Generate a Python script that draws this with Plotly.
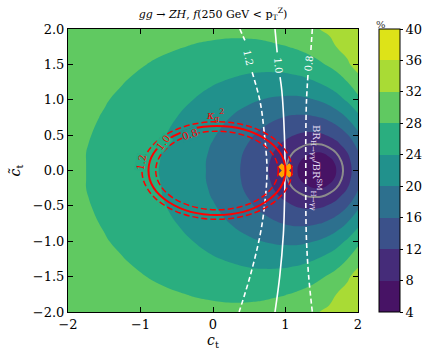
import plotly.graph_objects as go

# grid of f(250 GeV < pT^Z) in %
ct = [-2, -1.75, -1.5, -1.25, -1, -0.75, -0.5, -0.25, 0, 0.25, 0.5, 0.7, 0.85,
      1.0, 1.1, 1.2, 1.3, 1.4, 1.5, 1.6, 1.7, 1.85, 2.0]
ctt = [-2, -1.75, -1.5, -1.25, -1, -0.75, -0.5, -0.375, -0.25, -0.125, 0,
       0.125, 0.25, 0.375, 0.5, 0.75, 1, 1.25, 1.5, 1.75, 2]
frac = [
    [31.2, 30.9, 30.5, 30.2, 29.9, 29.5, 29.3, 29.0, 28.9, 28.9, 29.0, 29.3, 29.6, 30.0, 30.3, 30.7, 31.1, 31.6, 32.2, 32.7, 33.4, 34.4, 35.5],
    [30.7, 30.3, 29.9, 29.5, 29.0, 28.6, 28.2, 27.8, 27.5, 27.2, 27.2, 27.3, 27.6, 27.9, 28.2, 28.6, 29.0, 29.6, 30.2, 30.8, 32.0, 32.8, 34.1],
    [30.2, 29.8, 29.3, 28.7, 28.2, 27.6, 27.0, 26.5, 25.9, 25.5, 25.2, 25.1, 25.2, 25.4, 25.7, 26.0, 26.5, 27.0, 27.7, 28.4, 29.2, 31.6, 33.0],
    [29.8, 29.3, 28.7, 28.1, 27.4, 26.7, 25.9, 25.1, 24.3, 23.6, 22.9, 22.6, 22.5, 22.5, 22.7, 22.9, 23.3, 23.8, 24.5, 25.3, 26.2, 27.9, 31.0],
    [29.4, 28.8, 28.2, 27.5, 26.7, 25.8, 24.9, 23.9, 22.8, 21.7, 20.6, 19.9, 19.5, 19.3, 19.2, 19.3, 19.6, 20.0, 20.6, 21.4, 22.5, 24.5, 26.8],
    [29.1, 28.5, 27.8, 27.0, 26.1, 25.1, 24.0, 22.8, 21.4, 19.9, 18.4, 17.3, 16.5, 15.8, 15.5, 15.4, 15.4, 15.7, 16.1, 16.9, 18.0, 20.2, 23.1],
    [28.9, 28.2, 27.5, 26.6, 25.6, 24.5, 23.3, 21.9, 20.3, 18.5, 16.5, 14.9, 13.7, 12.7, 12.1, 11.6, 11.3, 11.3, 11.6, 12.3, 13.3, 15.7, 19.1],
    [28.8, 28.1, 27.3, 26.5, 25.5, 24.3, 23.0, 21.5, 19.8, 17.9, 15.8, 14.0, 12.6, 11.4, 10.6, 10.0, 9.6, 9.5, 9.6, 10.2, 11.2, 13.6, 17.2],
    [28.8, 28.0, 27.3, 26.4, 25.3, 24.2, 22.8, 21.3, 19.5, 17.5, 15.2, 13.3, 11.8, 10.4, 9.5, 8.8, 8.3, 8.0, 8.0, 8.5, 9.5, 11.9, 15.7],
    [28.7, 28.0, 27.2, 26.3, 25.3, 24.1, 22.7, 21.1, 19.3, 17.3, 14.9, 12.9, 11.3, 9.8, 8.8, 8.0, 7.4, 7.0, 7.0, 7.4, 8.3, 10.8, 14.6],
    [28.7, 28.0, 27.2, 26.3, 25.2, 24.0, 22.7, 21.1, 19.3, 17.2, 14.8, 12.7, 11.1, 9.5, 8.6, 7.7, 7.1, 6.7, 6.6, 7.0, 8.0, 10.4, 14.3],
    [28.7, 28.0, 27.2, 26.3, 25.3, 24.1, 22.7, 21.1, 19.3, 17.3, 14.9, 12.9, 11.3, 9.8, 8.8, 8.0, 7.4, 7.0, 7.0, 7.4, 8.3, 10.8, 14.6],
    [28.8, 28.0, 27.3, 26.4, 25.3, 24.2, 22.8, 21.3, 19.5, 17.5, 15.2, 13.3, 11.8, 10.4, 9.5, 8.8, 8.3, 8.0, 8.0, 8.5, 9.5, 11.9, 15.7],
    [28.8, 28.1, 27.3, 26.5, 25.5, 24.3, 23.0, 21.5, 19.8, 17.9, 15.8, 14.0, 12.6, 11.4, 10.6, 10.0, 9.6, 9.5, 9.6, 10.2, 11.2, 13.6, 17.2],
    [28.9, 28.2, 27.5, 26.6, 25.6, 24.5, 23.3, 21.9, 20.3, 18.5, 16.5, 14.9, 13.7, 12.7, 12.1, 11.6, 11.3, 11.3, 11.6, 12.3, 13.3, 15.7, 19.1],
    [29.1, 28.5, 27.8, 27.0, 26.1, 25.1, 24.0, 22.8, 21.4, 19.9, 18.4, 17.3, 16.5, 15.8, 15.5, 15.4, 15.4, 15.7, 16.1, 16.9, 18.0, 20.2, 23.1],
    [29.4, 28.8, 28.2, 27.5, 26.7, 25.8, 24.9, 23.9, 22.8, 21.7, 20.6, 19.9, 19.5, 19.3, 19.2, 19.3, 19.6, 20.0, 20.6, 21.4, 22.5, 24.5, 26.8],
    [29.8, 29.3, 28.7, 28.1, 27.4, 26.7, 25.9, 25.1, 24.3, 23.6, 22.9, 22.6, 22.5, 22.5, 22.7, 22.9, 23.3, 23.8, 24.5, 25.3, 26.2, 27.9, 31.0],
    [30.2, 29.8, 29.3, 28.7, 28.2, 27.6, 27.0, 26.5, 25.9, 25.5, 25.2, 25.1, 25.2, 25.4, 25.7, 26.0, 26.5, 27.0, 27.7, 28.4, 29.2, 31.6, 33.0],
    [30.7, 30.3, 29.9, 29.5, 29.0, 28.6, 28.2, 27.8, 27.5, 27.2, 27.2, 27.3, 27.6, 27.9, 28.2, 28.6, 29.0, 29.6, 30.2, 30.8, 32.0, 32.8, 34.1],
    [31.2, 30.9, 30.5, 30.2, 29.9, 29.5, 29.3, 29.0, 28.9, 28.9, 29.0, 29.3, 29.6, 30.0, 30.3, 30.7, 31.1, 31.6, 32.2, 32.7, 33.4, 34.4, 35.5],
]
f_sm = 9.5
levels = [4, 8, 12, 16, 20, 24, 28, 32, 36, 40]
band_colors = ['#471365', '#443983', '#38588c', '#2c738e', '#21918c',
               '#25ab82', '#52c569', '#8fd744', '#dde318']

# white contours, x read at given ctilde (None = label gap)
w_labels = ['1.2', '1.0', '0.8']
w_dash = ['dash', 'solid', 'dash']
w_y = [[2.0, 1.84, None, 1.39, 0.97, 0.5, 0.0, -0.5, -0.91, -1.5, -2.0],
       [2.0, 1.67, None, 1.32, 1.12, 0.5, 0.0, -0.5, -0.91, -1.5, -2.0],
       [2.0, 1.70, None, 1.35, 1.0, 0.5, 0.0, -0.5, -1.0, -1.5, -2.0]]
w_x = [[0.37, 0.44, None, 0.54, 0.65, 0.71, 0.745, 0.71, 0.65, 0.51, 0.36],
       [0.855, 0.885, None, 0.925, 0.95, 0.985, 0.993, 0.985, 0.97, 0.92, 0.855],
       [1.37, 1.35, None, 1.31, 1.29, 1.28, 1.28, 1.28, 1.29, 1.32, 1.37]]
w_lab_x = [0.49, 0.905, 1.33]
w_lab_y = [1.60, 1.49, 1.52]
w_lab_angle = [78, 84, -84]

# kappa_g^2 ellipses
kg_labels = ['0.8', '1.0', '1.2']
kg_left = [-0.79, -0.89, -0.98]
kg_right = [0.90, 1.00, 1.09]
kg_top = [0.555, 0.63, 0.69]
kg_lab_x = [-0.317, -0.685, -0.984]
kg_lab_y = [0.512, 0.40, 0.11]
kg_lab_angle = [-18, -52, -80]
kg_lab_bg = ['#21918c', '#25ab82', '#25ab82']

font = 'DejaVu Serif'
cs = [[0, band_colors[0]]]
for i, c in enumerate(band_colors):
    cs.append([(i + 1) / 10, c])
cs.append([1, band_colors[-1]])

fig = go.Figure()
fig.add_trace(go.Contour(
    x=ct, y=ctt, z=frac, colorscale=cs, zmin=4, zmax=40, autocontour=False,
    contours=dict(start=levels[0], end=levels[-1], size=4, coloring='fill', showlines=False),
    line=dict(width=0, smoothing=1.3), hoverinfo='skip',
    colorbar=dict(x=1.0724, xanchor='left', xpad=0, ypad=0, thickness=21, len=1,
                  y=0.5, yanchor='middle', outlinewidth=1, outlinecolor='black',
                  tickvals=levels, ticks='outside', ticklen=3, tickcolor='black',
                  tickfont=dict(family=font, size=13, color='black'))))
fig.add_trace(go.Contour(
    x=ct, y=ctt, z=frac, autocontour=False, showscale=False,
    contours=dict(start=f_sm, end=f_sm, size=1, coloring='none'),
    line=dict(color='#8c8c8c', width=2, smoothing=1.3), hoverinfo='skip'))

for xs, ys, d in zip(w_x, w_y, w_dash):
    fig.add_trace(go.Scatter(x=xs, y=ys, mode='lines', showlegend=False, hoverinfo='skip',
                             line=dict(color='white', width=1.6, shape='spline',
                                       dash='5px,3px' if d == 'dash' else 'solid')))

shapes = []
for l, r, t, lab in zip(kg_left, kg_right, kg_top, kg_labels):
    shapes.append(dict(type='circle', xref='x', yref='y', x0=l, x1=r, y0=-t, y1=t,
                       line=dict(color='red', width=2 if lab == '1.0' else 1.5,
                                 dash='solid' if lab == '1.0' else '6px,3px')))
# grey f_SM mark on the colour bar
shapes.append(dict(type='line', xref='paper', yref='paper', x0=1.0724, x1=1.0724 + 21/290,
                   y0=(f_sm - 4) / 36, y1=(f_sm - 4) / 36, line=dict(color='#8c8c8c', width=2)))

fig.add_trace(go.Scatter(x=[1.0], y=[0.0], mode='markers', showlegend=False, hoverinfo='skip',
                         marker=dict(symbol='x', size=13, color='orange', line=dict(width=0))))

ann = []
for t, x, y, a in zip(w_labels, w_lab_x, w_lab_y, w_lab_angle):
    ann.append(dict(x=x, y=y, text=t, showarrow=False, textangle=a,
                    font=dict(family=font, size=10, color='white')))
for t, x, y, a, bg in zip(kg_labels, kg_lab_x, kg_lab_y, kg_lab_angle, kg_lab_bg):
    ann.append(dict(x=x, y=y, text=t, showarrow=False, textangle=a, bgcolor=bg, borderpad=0,
                    font=dict(family=font, size=10, color='red')))
ann.append(dict(x=0.03, y=0.79, text='<i>κ</i><sub>g</sub><sup>2</sup>', showarrow=False,
                font=dict(family=font, size=11, color='red')))
ann.append(dict(x=1.43, y=0.04, text='BR<sub>H→γγ</sub>/BR<sup>SM</sup><sub>H→γγ</sub>',
                showarrow=False, textangle=90, font=dict(family=font, size=10, color='#e4dcf2')))
ann.append(dict(x=1.103, y=1.042, xref='paper', yref='paper', text='%', showarrow=False,
                font=dict(family=font, size=10, color='#333333')))

ax = dict(range=[-2, 2], showgrid=False, zeroline=False, showline=True, linecolor='black',
          linewidth=1, mirror='allticks', ticks='inside', ticklen=5, tickcolor='black',
          automargin=False, tickfont=dict(family=font, size=13, color='black'))
fig.update_layout(
    width=431, height=360, margin=dict(l=68, r=73, t=29, b=48, autoexpand=False),
    paper_bgcolor='white', plot_bgcolor='white', showlegend=False,
    title=dict(text='<i>gg</i> → <i>ZH</i>, <i>f</i>(250 GeV &lt; p<sub>T</sub><sup>Z</sup>)',
               x=0.4942, xanchor='center', y=0.962, yanchor='middle',
               font=dict(family=font, size=11, color='black')),
    xaxis=dict(ax, dtick=1, title=dict(text='<i>c</i><sub>t</sub>', standoff=4,
                                       font=dict(family=font, size=14, color='black'))),
    yaxis=dict(ax, dtick=0.5, tickformat='.1f',
               title=dict(text='<i>c̃</i><sub>t</sub>', standoff=8,
                          font=dict(family=font, size=14, color='black'))),
    shapes=shapes, annotations=ann)
fig.write_html("out.html", config={'displayModeBar': False},
               post_script="document.body.style.margin='0px';")
